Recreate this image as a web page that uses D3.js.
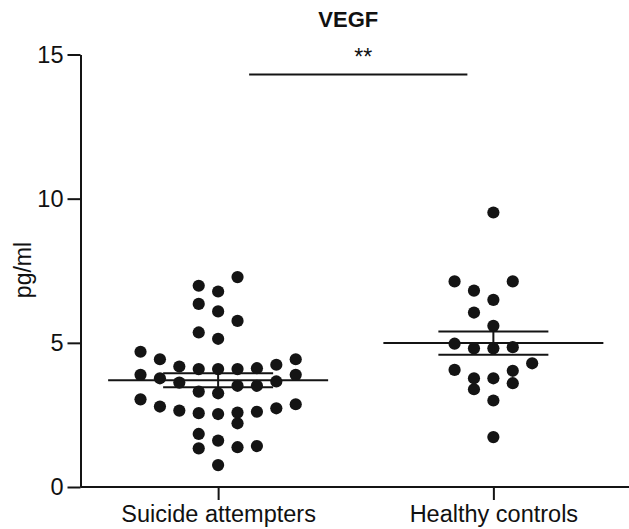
<!DOCTYPE html>
<html>
<head>
<meta charset="utf-8">
<script src="https://cdn.jsdelivr.net/npm/d3@7/dist/d3.min.js"></script>
<style>
  html, body { margin: 0; padding: 0; background: #fff; }
  svg { display: block; }
  text { font-family: "Liberation Sans", Arial, sans-serif; fill: #111; }
</style>
</head>
<body>
<svg id="chart" width="629" height="529"></svg>
<script>
// ---- data ----
const title = "VEGF";
const yLabel = "pg/ml";
const categories = ["Suicide attempters", "Healthy controls"];
const yTicks = [0, 5, 10, 15];
const suicideAttempters = [
  7.28, 6.98, 6.78, 6.35, 6.09, 5.76, 5.36, 5.14,
  4.69, 4.43, 4.43, 4.24, 4.18, 4.12, 4.09, 4.09, 4.09,
  3.89, 3.89, 3.77, 3.66, 3.62, 3.51, 3.51, 3.31, 3.25,
  3.04, 2.87, 2.79, 2.73, 2.65, 2.61, 2.58, 2.56, 2.53,
  2.21, 1.84, 1.61, 1.42, 1.38, 1.34, 0.76
];
const healthyControls = [
  9.52, 7.13, 7.13, 6.81, 6.49, 6.05, 5.59, 4.97, 4.85, 4.81,
  4.81, 4.29, 4.06, 4.03, 3.77, 3.77, 3.60, 3.39, 3.00, 1.73
];
const significance = "**";

// ---- layout ----
const svg = d3.select("#chart");
const margin = { left: 80.5, right: -2, top: 54.5, bottom: 42 };
const W = 629, H = 529;

const y = d3.scaleLinear().domain([0, 15]).range([H - margin.bottom, margin.top]);
const x = d3.scalePoint().domain(categories).range([margin.left, W - margin.right]).padding(0.5);

const ink = "#141414";
const r = 6.1;
const colStep = 19.4;
const binWidth = 0.68; // data units

// column-scatter layout: sequential bins from the lowest value, spread sideways
function swarm(values, order) {
  const sorted = values.slice().sort((a, b) => a - b);
  const out = [];
  let i = 0;
  while (i < sorted.length) {
    const start = sorted[i];
    let k = 0;
    while (i < sorted.length && sorted[i] < start + binWidth) {
      out.push({ v: sorted[i], c: order[k] });
      i++; k++;
    }
  }
  return out;
}

const groups = [
  { name: categories[0], values: suicideAttempters, order: [0, -1, 1, 2, -2, 3, -3, 4, -4, 5, -5] },
  { name: categories[1], values: healthyControls, order: [0, -1, 1, -2, 2, -3, 3, -4, 4] }
];

// axes
const fontFam = "Liberation Sans, Arial, sans-serif";
const yAxis = svg.append("g")
  .attr("transform", `translate(${margin.left},0)`)
  .call(d3.axisLeft(y).tickValues(yTicks).tickSize(13).tickPadding(4).tickSizeOuter(0));
yAxis.select(".domain").attr("stroke", ink).attr("stroke-width", 2);
yAxis.selectAll(".tick line").attr("stroke", ink).attr("stroke-width", 2);
yAxis.selectAll(".tick text").attr("font-size", 23.5).style("font-family", fontFam).attr("fill", ink);

const xAxis = svg.append("g")
  .attr("transform", `translate(0,${y(0)})`)
  .call(d3.axisBottom(x).tickSize(13).tickPadding(5).tickSizeOuter(0));
xAxis.select(".domain").attr("stroke", ink).attr("stroke-width", 2)
  .attr("d", `M${margin.left},0H${W}`);
xAxis.selectAll(".tick line").attr("stroke", ink).attr("stroke-width", 2);
xAxis.selectAll(".tick text").attr("font-size", 23.5).style("font-family", fontFam).attr("fill", ink);

// y label
svg.append("text")
  .attr("transform", `translate(31,270) rotate(-90)`)
  .attr("text-anchor", "middle")
  .attr("font-size", 23)
  .text(yLabel);

// title
svg.append("text")
  .attr("x", (x(categories[0]) + x(categories[1])) / 2 - 7.5)
  .attr("y", 27)
  .attr("text-anchor", "middle")
  .attr("font-size", 22)
  .attr("font-weight", "bold")
  .text(title);

// points
groups.forEach(g => {
  const cx = x(g.name);
  svg.append("g").selectAll("circle")
    .data(swarm(g.values, g.order))
    .join("circle")
    .attr("cx", d => cx + d.c * colStep)
    .attr("cy", d => y(d.v))
    .attr("r", r)
    .attr("fill", ink);
});

// mean and SEM
groups.forEach(g => {
  const cx = x(g.name);
  const m = d3.mean(g.values);
  const sem = d3.deviation(g.values) / Math.sqrt(g.values.length);
  const gg = svg.append("g").attr("stroke", ink).attr("stroke-width", 2);
  gg.append("line").attr("x1", cx - 110).attr("x2", cx + 110).attr("y1", y(m)).attr("y2", y(m));
  gg.append("line").attr("x1", cx - 55).attr("x2", cx + 55).attr("y1", y(m + sem)).attr("y2", y(m + sem));
  gg.append("line").attr("x1", cx - 55).attr("x2", cx + 55).attr("y1", y(m - sem)).attr("y2", y(m - sem));
  gg.append("line").attr("x1", cx).attr("x2", cx).attr("y1", y(m + sem)).attr("y2", y(m - sem));
});

// significance bar
const x1 = x(categories[0]) + 31, x2 = x(categories[1]) - 26;
svg.append("line").attr("x1", x1).attr("x2", x2).attr("y1", 74.5).attr("y2", 74.5)
  .attr("stroke", ink).attr("stroke-width", 2);
svg.append("text")
  .attr("x", (x1 + x2) / 2 + 5)
  .attr("y", 65)
  .attr("text-anchor", "middle")
  .attr("font-size", 23)
  .text(significance);
</script>
</body>
</html>
